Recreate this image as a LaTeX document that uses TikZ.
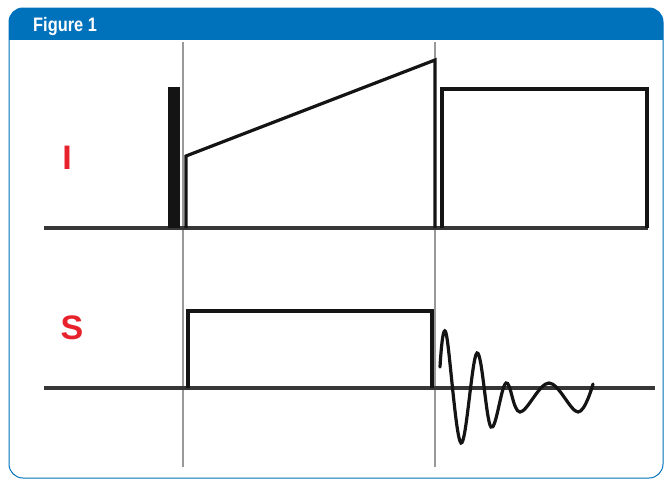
\documentclass[tikz,border=0pt]{standalone}
\usepackage{fontspec}
\usepackage{graphicx}
\setmainfont{Liberation Sans}
\usetikzlibrary{positioning}
\definecolor{figblue}{RGB}{0,114,188}
\definecolor{sigred}{RGB}{232,34,44}
\definecolor{traceblack}{RGB}{20,20,20}

\begin{document}
\begin{tikzpicture}[x=1pt,y=-1pt,
    trace/.style={draw=traceblack, line width=3.2pt, line join=miter},
    axisline/.style={draw=traceblack!85, line width=3.2pt},
    guide/.style={draw=black!40, line width=1.2pt},
    sig/.style={font=\fontsize{34}{34}\selectfont\bfseries, text=sigred, inner sep=0pt},
    figtitle/.style={font=\fontsize{19.5}{19.5}\selectfont\bfseries, text=white, inner sep=0pt}]
        \useasboundingbox (0,0) rectangle (664,480);
        % frame and header band
        \draw[figblue, line width=1pt, rounded corners=14] (9,8) rectangle (663,478);
        \begin{scope}
          \clip (0,0) rectangle (664,39);
          \fill[figblue, rounded corners=14] (9,8) rectangle (663,70);
        \end{scope}
        \node[figtitle, anchor=base west] (title) at (33,31) {\scalebox{0.84}[1]{Figure 1}};
        % channel labels
        \node[sig] (lblI) at (67,158) {I};
        \node[sig] (lblS) at (72,328) {S};
        % timing guides
        \foreach \x in {183,435}{\draw[guide] (\x,42) -- (\x,467);}
        % baselines
        \draw[axisline] (44,228) -- (648,228);
        \draw[axisline] (44,388) -- (655,388);
        % I channel: pulse, ramp, block
        \fill[traceblack] (168,87) rectangle (180,228);
        \draw[trace] (186,228) -- (186,156) -- (435,60) -- (435,228);
        \draw[trace] (442,228) -- (442,89) -- (647,89) -- (647,228);
        % S channel: gate and ringing
        \draw[trace] (188,388) -- (188,311) -- (432,311) -- (432,388);
        \draw[trace, line cap=round] plot[smooth, tension=0.6] coordinates
          {(440,367) (446,333) (461,443) (477,353) (491,427) (506,383)
           (520,412) (549,383) (578,412) (593,384)};
      \end{tikzpicture}
\end{document}
